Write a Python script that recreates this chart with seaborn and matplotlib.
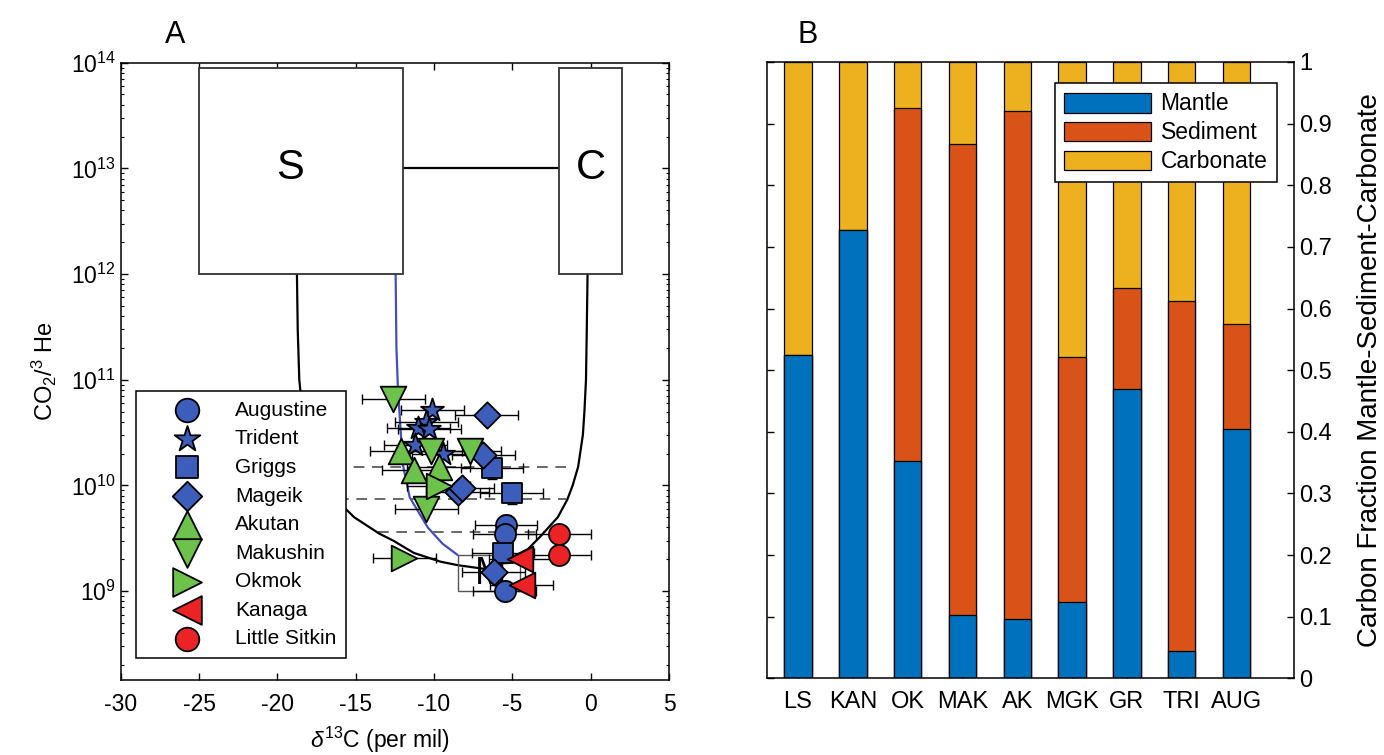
import numpy as np
import pandas as pd
import seaborn as sns
import matplotlib.pyplot as plt
from matplotlib.patches import Rectangle
from matplotlib.ticker import FixedLocator, LogLocator, NullFormatter

# ---------------- Panel A: d13C vs CO2/3He ----------------
volcanoes = ['Augustine', 'Trident', 'Griggs', 'Mageik', 'Akutan',
             'Makushin', 'Okmok', 'Kanaga', 'Little Sitkin']
blue, green, red = '#3D5DBA', '#6CC24A', '#EC2324'
vol_markers = ['o', '*', 's', 'D', '^', 'v', '>', '<', 'o']
vol_colors = [blue, blue, blue, blue, green, green, green, red, red]
vol_sizes = [230, 300, 190, 180, 340, 340, 340, 340, 230]

aug_d13c = [-5.4, -5.5, -5.5]
aug_co2he = [4.2e9, 3.5e9, 1.0e9]
tri_d13c = [-10.1, -10.5, -11.0, -10.3, -11.2, -9.4]
tri_co2he = [5.2e10, 4.0e10, 3.5e10, 3.4e10, 2.4e10, 2.0e10]
gri_d13c = [-6.3, -5.05, -5.6]
gri_co2he = [1.45e10, 8.4e9, 2.3e9]
mag_d13c = [-6.65, -6.85, -8.5, -8.2, -6.2]
mag_co2he = [4.6e10, 1.95e10, 8.7e9, 9.5e9, 1.5e9]
aku_d13c = [-12.1, -11.3, -9.7]
aku_co2he = [2.1e10, 1.4e10, 1.5e10]
mak_d13c = [-12.6, -10.2, -7.7, -10.5]
mak_co2he = [6.5e10, 2.1e10, 2.1e10, 6.0e9]
okm_d13c = [-9.7, -11.9]
okm_co2he = [9.8e9, 2.05e9]
kan_d13c = [-4.5, -4.4]
kan_co2he = [2.0e9, 1.15e9]
lsi_d13c = [-2.0, -2.0]
lsi_co2he = [3.5e9, 2.2e9]

d13c_err = 2.0
co2he_rel_err = [0.25, 0, 0.25, 0, 0, 0, 0, 0, 0]

# end-member boxes (S = sediment, C = carbonate, M = mantle)
box_names = ['S', 'C', 'M']
box_d13c_lo = [-25, -2, -8.5]
box_d13c_hi = [-12, 2, -4.5]
box_co2he_lo = [1e12, 1e12, 1e9]
box_co2he_hi = [9e13, 9e13, 2.2e9]
box_label_d13c = [-19.2, 0.0, -6.4]
box_label_co2he = [1e13, 1e13, 1.45e9]

# mixing curves
sm_d13c = [-18.75, -18.7, -18.6, -18.4, -18.1, -17.5, -16.9, -16.1, -15.1,
           -13.5, -12.6, -11.3, -9.6, -8.5, -6.5]
sm_co2he = [1e12, 3e11, 1e11, 5e10, 3e10, 1.5e10, 1e10, 7e9, 5e9,
            3.5e9, 3e9, 2.3e9, 1.9e9, 1.76e9, 1.6e9]
cm_d13c = [-0.2, -0.25, -0.3, -0.4, -0.5, -0.8, -1.15, -1.5, -2.1,
           -3.2, -4.0, -5.0, -6.5]
cm_co2he = [1e12, 3e11, 1e11, 5e10, 3e10, 1.5e10, 1e10, 7.3e9, 5e9,
            3.3e9, 2.5e9, 2.1e9, 1.6e9]
blue_d13c = [-12.45, -12.4, -12.3, -12.2, -12.0, -11.55, -10.4, -9.45, -8.5]
blue_co2he = [1e12, 2e11, 8e10, 4.8e10, 1.6e10, 7.7e9, 4.0e9, 2.8e9, 2.2e9]
sc_d13c = [-12, -2]
sc_co2he = [1e13, 1e13]

dash_co2he = [1.48e10, 7.4e9, 3.6e9]
dash_d13c_lo = [-17.5, -16.1, -13.6]
dash_d13c_hi = [-1.2, -1.6, -3.0]

# ---------------- Panel B: carbon fractions ----------------
sites = ['LS', 'KAN', 'OK', 'MAK', 'AK', 'MGK', 'GR', 'TRI', 'AUG']
mantle = [0.524, 0.728, 0.352, 0.103, 0.096, 0.123, 0.469, 0.045, 0.404]
sediment = [0.0, 0.0, 0.574, 0.764, 0.824, 0.398, 0.165, 0.567, 0.171]
carbonate = [0.476, 0.272, 0.074, 0.133, 0.080, 0.479, 0.366, 0.388, 0.425]
frac_ticks = [0, 0.1, 0.2, 0.3, 0.4, 0.5, 0.6, 0.7, 0.8, 0.9, 1]
frac_labels = ['0', '0.1', '0.2', '0.3', '0.4', '0.5', '0.6', '0.7', '0.8', '0.9', '1']

sns.set_theme(style='ticks')
plt.rcParams['font.family'] = ['Liberation Sans', 'DejaVu Sans']
plt.rcParams['mathtext.fontset'] = 'custom'
plt.rcParams['mathtext.rm'] = 'Liberation Sans'
plt.rcParams['mathtext.it'] = 'Liberation Sans:italic'
plt.rcParams['axes.edgecolor'] = 'black'
plt.rcParams['axes.linewidth'] = 1.1
plt.rcParams['xtick.color'] = 'black'
plt.rcParams['ytick.color'] = 'black'
plt.rcParams['text.color'] = 'black'
plt.rcParams['axes.labelcolor'] = 'black'

fig = plt.figure(figsize=(13.84, 7.55), dpi=100)
ax = fig.add_axes([0.0872, 0.0993, 0.3962, 0.8177])
ax2 = fig.add_axes([0.5542, 0.1016, 0.3808, 0.8163])

# ---- panel A ----
ax.set_yscale('log')
ax.set_xlim(-30, 5)
ax.set_ylim(1.44e8, 1e14)

for i in range(3):
    ax.plot([dash_d13c_lo[i], dash_d13c_hi[i]], [dash_co2he[i]] * 2,
            color='#404040', lw=1.1, ls=(0, (7, 5)), zorder=1)
ax.plot(sm_d13c, sm_co2he, color='black', lw=1.6, zorder=1)
ax.plot(cm_d13c, cm_co2he, color='black', lw=1.6, zorder=1)
ax.plot(blue_d13c, blue_co2he, color='#3F4FC0', lw=1.6, zorder=1)
ax.plot(sc_d13c, sc_co2he, color='black', lw=1.6, zorder=1)

for i, name in enumerate(box_names):
    if name == 'M':
        ec, lw, fc = '#555555', 1.0, 'none'
    else:
        ec, lw, fc = '#333333', 1.3, 'white'
    ax.add_patch(Rectangle((box_d13c_lo[i], box_co2he_lo[i]),
                           box_d13c_hi[i] - box_d13c_lo[i],
                           box_co2he_hi[i] - box_co2he_lo[i],
                           facecolor=fc, edgecolor=ec, lw=lw, zorder=1.5))
    ax.text(box_label_d13c[i], box_label_co2he[i], name,
            fontsize=30 if name != 'M' else 27, ha='center', va='center', zorder=1.6)

all_d13c = [aug_d13c, tri_d13c, gri_d13c, mag_d13c, aku_d13c,
            mak_d13c, okm_d13c, kan_d13c, lsi_d13c]
all_co2he = [aug_co2he, tri_co2he, gri_co2he, mag_co2he, aku_co2he,
             mak_co2he, okm_co2he, kan_co2he, lsi_co2he]

for i, name in enumerate(volcanoes):
    df = pd.DataFrame({'d13c': all_d13c[i], 'co2he': all_co2he[i]})
    yerr = None
    if co2he_rel_err[i] > 0:
        yerr = [df['co2he'] * co2he_rel_err[i] * 0.8, df['co2he'] * co2he_rel_err[i]]
    ax.errorbar(df['d13c'], df['co2he'], xerr=d13c_err, yerr=yerr, fmt='none',
                ecolor='black', elinewidth=1.0, capsize=3.5, capthick=1.0, zorder=2)
    sns.scatterplot(data=df, x='d13c', y='co2he', marker=vol_markers[i],
                    color=vol_colors[i], s=vol_sizes[i], edgecolor='black',
                    linewidth=1.3, label=name, ax=ax, zorder=3)

handles, labels = ax.get_legend_handles_labels()
leg = ax.legend(handles, labels, loc='lower left', bbox_to_anchor=(0.028, 0.036),
                borderaxespad=0, fontsize=15, frameon=True, fancybox=False,
                edgecolor='black', framealpha=1, markerscale=1.12,
                labelspacing=0.46, handletextpad=0.3, borderpad=0.45,
                handlelength=4.0)
leg.get_frame().set_linewidth(1.1)
leg.set_zorder(5)

ax.set_xticks([-30, -25, -20, -15, -10, -5, 0, 5])
ax.set_xticklabels(['-30', '-25', '-20', '-15', '-10', '-5', '0', '5'])
ax.yaxis.set_major_locator(FixedLocator([1e9, 1e10, 1e11, 1e12, 1e13, 1e14]))
ax.yaxis.set_minor_locator(LogLocator(base=10, subs=np.arange(2, 10), numticks=20))
ax.yaxis.set_minor_formatter(NullFormatter())
ax.tick_params(which='both', direction='in', top=True, right=True, labelsize=16.5)
ax.tick_params(which='major', length=5, width=1)
ax.tick_params(which='minor', length=2.5, width=0.8)
ax.tick_params(axis='x', pad=9)
ax.set_xlabel(r'$\delta^{13}$C (per mil)', fontsize=16.5)
ax.xaxis.set_label_coords(0.473, -0.072)
ax.set_ylabel(r'CO$_2$/$^3$ He', fontsize=17)
ax.yaxis.set_label_coords(-0.113, 0.5)

# ---- panel B ----
bars = pd.DataFrame({'site': sites, 'mantle': mantle,
                     'sediment': sediment, 'carbonate': carbonate})
bars['top_sed'] = bars['mantle'] + bars['sediment']
bars['top_carb'] = bars['top_sed'] + bars['carbonate']

sns.barplot(data=bars, x='site', y='top_carb', order=sites, color='#EDB120',
            saturation=1, width=0.5, edgecolor='black', linewidth=0.9,
            label='Carbonate', ax=ax2)
sns.barplot(data=bars, x='site', y='top_sed', order=sites, color='#D95319',
            saturation=1, width=0.5, edgecolor='black', linewidth=0.9,
            label='Sediment', ax=ax2)
sns.barplot(data=bars, x='site', y='mantle', order=sites, color='#0072BD',
            saturation=1, width=0.5, edgecolor='black', linewidth=0.9,
            label='Mantle', ax=ax2)

ax2.set_xlim(-0.566, 9.05)
ax2.set_ylim(0, 1)
ax2.yaxis.set_major_locator(FixedLocator(frac_ticks))
ax2.set_yticklabels(frac_labels)
ax2.yaxis.tick_right()
ax2.yaxis.set_label_position('right')
ax2.tick_params(direction='in', top=True, left=True, right=True,
                labelleft=False, labelright=True, labelsize=17, length=5, width=1)
ax2.tick_params(axis='x', pad=9)
ax2.set_xlabel('')
ax2.set_ylabel('Carbon Fraction Mantle-Sediment-Carbonate', fontsize=20,
               rotation=90, labelpad=18)

h2, l2 = ax2.get_legend_handles_labels()
leg2 = ax2.legend(h2[::-1], l2[::-1], loc='upper right',
                  bbox_to_anchor=(0.967, 0.9655), borderaxespad=0,
                  fontsize=16.5, frameon=True, fancybox=False, edgecolor='black',
                  framealpha=1, handlelength=3.8, handleheight=0.96,
                  labelspacing=0.26, handletextpad=0.4, borderpad=0.4)
leg2.get_frame().set_linewidth(1.1)

fig.text(0.1264, 0.9536, 'A', fontsize=22, ha='center', va='center')
fig.text(0.5838, 0.9536, 'B', fontsize=22, ha='center', va='center')

fig.savefig('out.png', dpi=100)
